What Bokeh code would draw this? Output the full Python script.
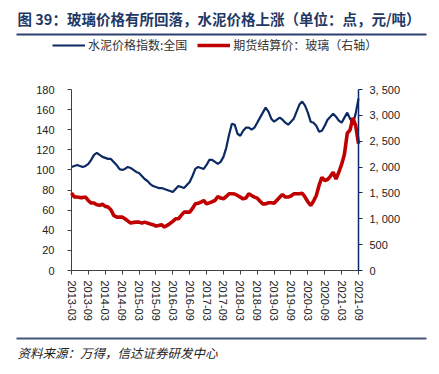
from bokeh.plotting import figure
from bokeh.models import (Range1d, LinearAxis, FixedTicker, Legend, LegendItem,
                          Label, BoxAnnotation, ColumnDataSource)
from bokeh.embed import file_html
from bokeh.resources import INLINE

# ---------------- data (monthly, 2013-03 .. 2021-09) ----------------
cement_index = [
    103, 104, 105, 104, 103, 104, 106, 110, 115, 117,            # 2013-03..12
    115, 113, 112, 111, 111, 108, 105, 101, 100, 101, 103, 102,  # 2014
    100, 98, 97, 94, 91, 89, 86, 84, 83, 82, 82, 81,             # 2015
    80, 79, 78, 81, 84, 83, 82, 85, 88, 94, 101, 103,            # 2016
    102, 101, 105, 110, 110, 108, 106, 108, 113, 122, 135, 146,  # 2017
    145, 136, 134, 139, 142, 142, 140, 142, 147, 152, 157, 162,  # 2018
    158, 151, 148, 150, 152, 150, 147, 145, 148, 151, 158, 165,  # 2019
    168, 164, 157, 148, 147, 144, 138, 139, 144, 150, 153, 156,  # 2020
    153, 149, 147, 152, 157, 151, 146, 156, 171,                 # 2021-01..09
]
glass_futures = [
    1500, 1420, 1420, 1410, 1410, 1420, 1350, 1305, 1305, 1270,
    1260, 1280, 1240, 1227, 1175, 1066, 1033, 1033, 1033, 1001, 960, 917,
    930, 936, 936, 917, 936, 917, 900, 885, 859, 872, 885, 840,
    872, 910, 950, 1000, 1000, 1066, 1128, 1128, 1128, 1200, 1289, 1300,
    1321, 1354, 1289, 1309, 1330, 1354, 1431, 1400, 1386, 1431, 1483, 1483,
    1480, 1450, 1418, 1386, 1400, 1483, 1450, 1420, 1400, 1340, 1289, 1289,
    1310, 1310, 1300, 1360, 1418, 1470, 1420, 1420, 1440, 1483, 1483, 1483,
    1495, 1420, 1330, 1257, 1340, 1450, 1650, 1800, 1740, 1760, 1820, 1900,
    1770, 1900, 2050, 2250, 2650, 2720, 2950, 2800, 2450,
]
x_tick_labels = ["2013-03", "2013-09", "2014-03", "2014-09", "2015-03", "2015-09",
                 "2016-03", "2016-09", "2017-03", "2017-09", "2018-03", "2018-09",
                 "2019-03", "2019-09", "2020-03", "2020-09", "2021-03", "2021-09"]
left_ticks = [0, 20, 40, 60, 80, 100, 120, 140, 160, 180]
right_ticks = [0, 500, 1000, 1500, 2000, 2500, 3000, 3500]
right_tick_labels = ["0", "500", "1, 000", "1, 500", "2, 000", "2, 500", "3, 000", "3, 500"]
series_names = ["水泥价格指数:全国", "期货结算价：玻璃（右轴）"]
title_text = "图 39：玻璃价格有所回落，水泥价格上涨（单位：点，元/吨）"
source_text = "资料来源：万得，信达证券研发中心"

months = list(range(len(cement_index)))
src = ColumnDataSource(dict(x=months, cement=cement_index, glass=glass_futures))

NAVY = "#0B2A63"
RED = "#C00000"
AXIS = "#404040"
CJK = "Noto Sans CJK SC"
LAT = "Liberation Sans"

# ---- layout: the frame fills the whole canvas; axes sit at fixed locations ----
W, H = 439, 374
PX_L, PX_R = 71, 358      # pixel columns of first / last month
PX_T, PX_B = 89, 270      # pixel rows of axis top / bottom
n_last = len(months) - 1
ymax_l, ymax_r = left_ticks[-1], right_ticks[-1]

sx = (PX_R - PX_L) / n_last
x0 = -PX_L / sx
x1 = x0 + W / sx
sy_l = (PX_B - PX_T) / ymax_l
sy_r = (PX_B - PX_T) / ymax_r
yl0, yl1 = -(H - PX_B) / sy_l, PX_B / sy_l
yr0, yr1 = -(H - PX_B) / sy_r, PX_B / sy_r

p = figure(width=W, height=H, output_backend="svg", toolbar_location=None,
           x_range=Range1d(x0, x1), y_range=Range1d(yl0, yl1),
           min_border=0, min_border_left=0, min_border_right=0,
           min_border_top=0, min_border_bottom=0)
p.outline_line_color = None
p.xgrid.visible = False
p.ygrid.visible = False
p.background_fill_color = "white"
p.border_fill_color = "white"
p.extra_y_ranges = {"right": Range1d(yr0, yr1)}

r_blue = p.line("x", "cement", source=src, line_color=NAVY, line_width=2.2)
r_red = p.line("x", "glass", source=src, y_range_name="right", line_color=RED,
               line_width=3.6)

# x axis
xa = p.xaxis[0]
xa.fixed_location = 0
xa.bounds = (0, n_last)
xa.ticker = FixedTicker(ticks=[6 * i for i in range(len(x_tick_labels))])
xa.major_label_overrides = {6 * i: lab for i, lab in enumerate(x_tick_labels)}
xa.major_label_orientation = "vertical"
xa.major_label_text_font = LAT
xa.major_label_text_font_size = "11px"
xa.major_label_text_color = "#222222"
xa.major_label_standoff = 6
xa.major_tick_out = 4
xa.major_tick_in = 0
xa.minor_tick_line_color = None
xa.axis_line_color = AXIS
xa.major_tick_line_color = AXIS

# left axis
ya = p.yaxis[0]
ya.fixed_location = 0
ya.bounds = (0, ymax_l)
ya.ticker = FixedTicker(ticks=left_ticks)
ya.major_label_text_font = LAT
ya.major_label_text_font_size = "11px"
ya.major_label_text_color = "#222222"
ya.major_label_standoff = 13
ya.major_tick_out = 4
ya.major_tick_in = 0
ya.minor_tick_line_color = None
ya.axis_line_color = AXIS
ya.major_tick_line_color = AXIS

# right axis
ra = LinearAxis(y_range_name="right", ticker=FixedTicker(ticks=right_ticks),
                fixed_location=n_last, bounds=(0, ymax_r))
ra.major_label_overrides = {t: lab for t, lab in zip(right_ticks, right_tick_labels)}
ra.major_label_text_font = LAT
ra.major_label_text_font_size = "11px"
ra.major_label_text_color = "#222222"
ra.major_label_standoff = 7
ra.major_tick_out = 4
ra.major_tick_in = 0
ra.minor_tick_line_color = None
ra.axis_line_color = NAVY
ra.axis_line_width = 1.5
ra.major_tick_line_color = NAVY
p.add_layout(ra, "right")

# legend (above the plotting area)
legend = Legend(items=[LegendItem(label=series_names[0], renderers=[r_blue]),
                       LegendItem(label=series_names[1], renderers=[r_red])],
                orientation="horizontal", location=(52, H - 53),
                padding=0, margin=0, spacing=10, glyph_width=33, glyph_height=14,
                label_height=14, label_standoff=3,
                label_text_font=CJK, label_text_font_size="12px",
                label_text_color="#333333",
                border_line_color=None, background_fill_alpha=0)
p.add_layout(legend, "center")

# title, rules, source
p.add_layout(Label(x=17, y=H - 18, x_units="screen", y_units="screen", text=title_text,
                   text_font=CJK, text_font_size="14.5px", text_font_style="bold",
                   text_color="#1F3864", text_baseline="middle"))
p.add_layout(BoxAnnotation(left=16, right=426, bottom=H - 35, top=H - 33,
                           left_units="screen", right_units="screen",
                           bottom_units="screen", top_units="screen",
                           fill_color="#2E4070", fill_alpha=1, line_color=None))
p.add_layout(BoxAnnotation(left=16, right=426, bottom=H - 339, top=H - 337,
                           left_units="screen", right_units="screen",
                           bottom_units="screen", top_units="screen",
                           fill_color="#45577A", fill_alpha=1, line_color=None))
p.add_layout(Label(x=17, y=H - 352, x_units="screen", y_units="screen", text=source_text,
                   text_font=CJK, text_font_size="12.5px", text_font_style="italic",
                   text_color="#222222", text_baseline="middle"))

open("out.html", "w").write(file_html(p, INLINE))
